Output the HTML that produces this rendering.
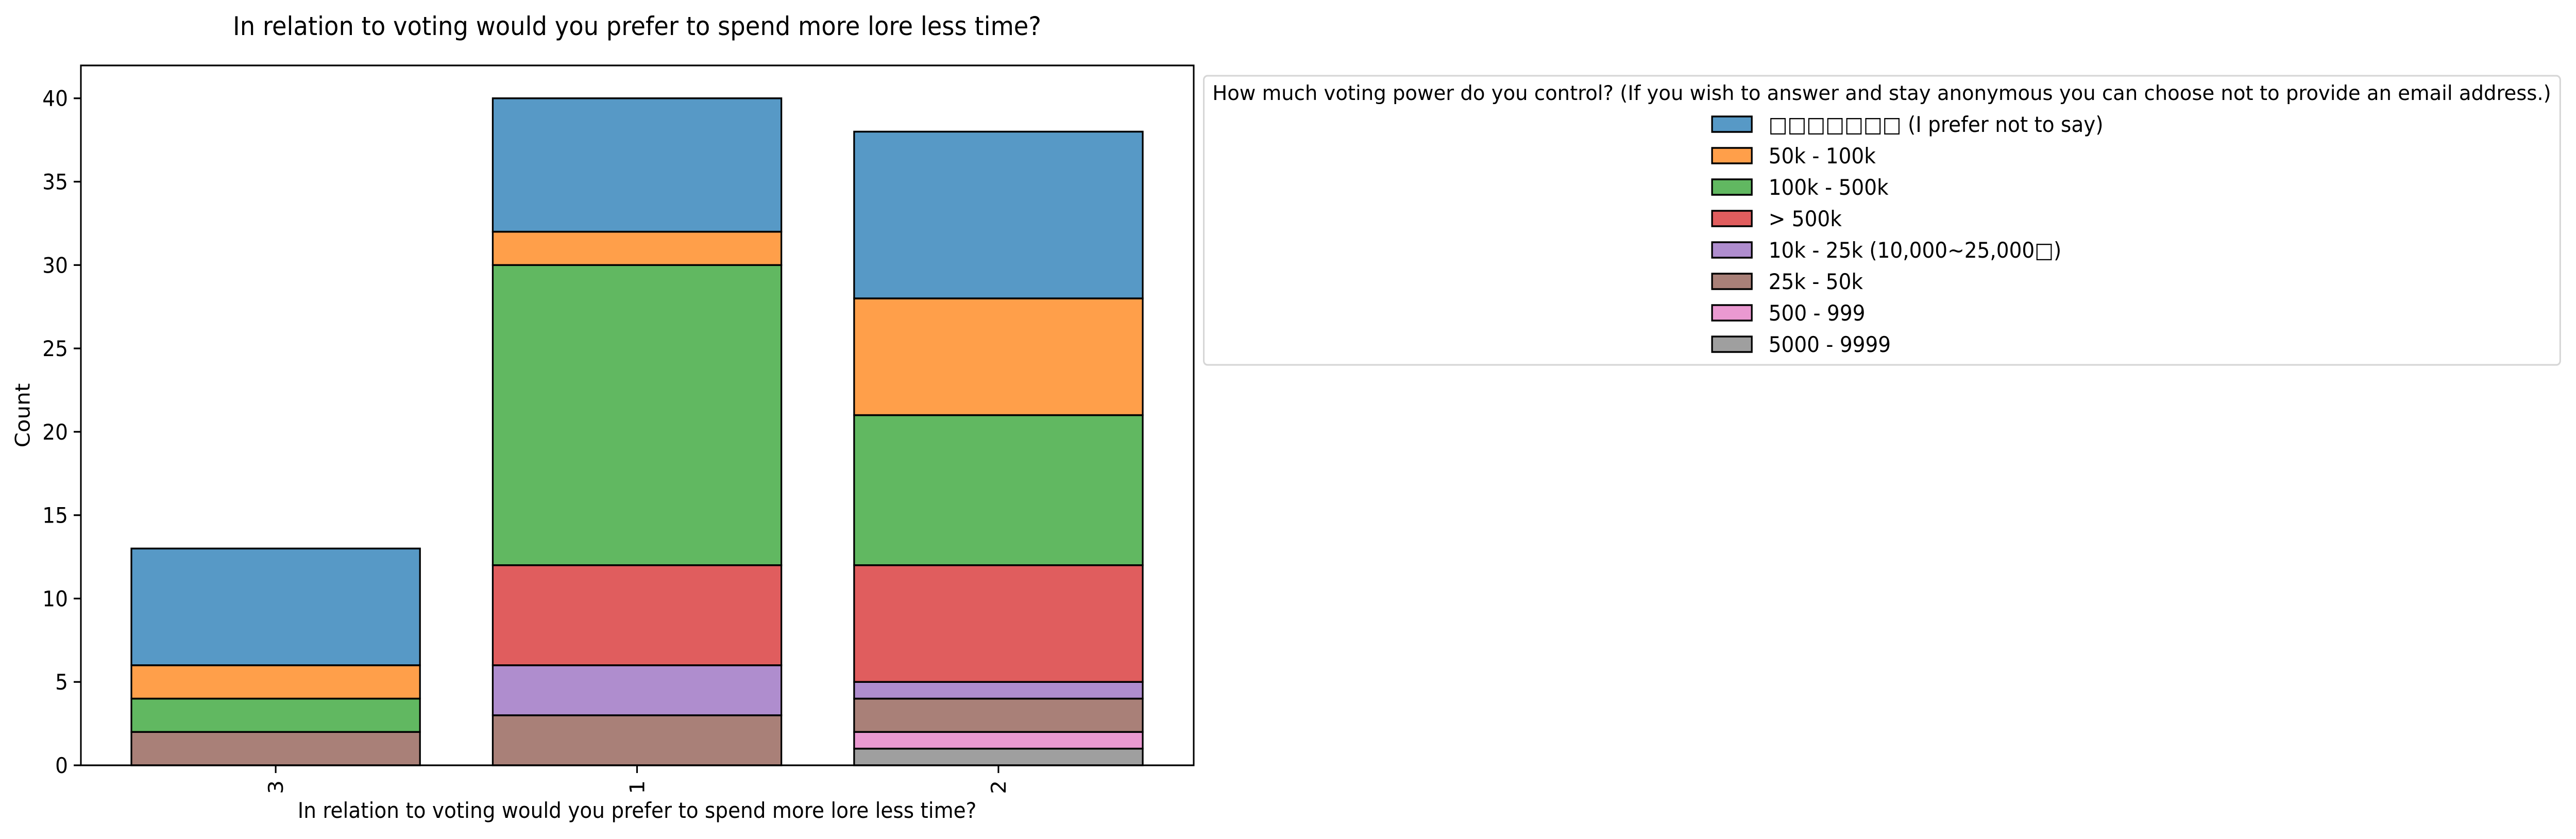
<!DOCTYPE html>
<html><head><meta charset="utf-8"><style>
html,body{margin:0;padding:0;background:#fff;width:100%;height:100%;overflow:hidden;}
svg{display:block;position:absolute;left:0;top:0;width:100vw;height:100vh;font-family:"DejaVu Sans","Liberation Sans","Noto Sans CJK SC",sans-serif;}
</style></head><body>
<svg id="chart" viewBox="0 0 5382 1628" preserveAspectRatio="none" xmlns="http://www.w3.org/2000/svg">
<rect width="5382" height="1628" fill="#fff"/>
<text x="1331" y="68" font-size="50" text-anchor="middle">In relation to voting would you prefer to spend more lore less time?</text>
<g id="bars"></g>
<g id="axes"></g>
<text x="62" y="806" font-size="42" text-anchor="middle" transform="rotate(-90 62 806)">Count</text>
<text x="1331" y="1587" font-size="42" text-anchor="middle">In relation to voting would you prefer to spend more lore less time?</text>
<g id="legend"></g>
</svg>
<script>
const categories = ["3", "1", "2"];
const seriesNames = ["□□□□□□□ (I prefer not to say)", "50k - 100k", "100k - 500k", "> 500k", "10k - 25k (10,000~25,000□)", "25k - 50k", "500 - 999", "5000 - 9999"];
const colors = ["#5799c6", "#ff9f4a", "#61b861", "#e05d5e", "#af8dce", "#a98078", "#ea99d1", "#9f9f9f"];
const sBlue = [7, 8, 10];
const sOrange = [2, 2, 7];
const sGreen = [2, 18, 9];
const sRed = [0, 6, 7];
const sPurple = [0, 3, 1];
const sBrown = [2, 3, 2];
const sPink = [0, 0, 1];
const sGray = [0, 0, 1];
const yTicks = [0, 5, 10, 15, 20, 25, 30, 35, 40];

const NS = "http://www.w3.org/2000/svg";
const L = 169, R = 2494, T = 127, B = 1485;
const yMax = 41.97;
const yS = v => B - v / yMax * (B - T);
const step = 755, firstC = 576;
const xC = i => firstC + i * step;
const bw = 603;
function mk(tag, attrs, parent) { const e = document.createElementNS(NS, tag); for (const k in attrs) e.setAttribute(k, attrs[k]); parent.appendChild(e); return e; }

const series = [sBlue, sOrange, sGreen, sRed, sPurple, sBrown, sPink, sGray];
const gb = document.getElementById('bars');
categories.forEach((c, i) => {
  let base = 0;
  for (let s = series.length - 1; s >= 0; s--) {
    const v = series[s][i];
    if (v <= 0) continue;
    const r = mk('rect', { x: xC(i) - bw / 2, y: yS(base + v), width: bw, height: yS(base) - yS(base + v), fill: colors[s], stroke: '#000', 'stroke-width': 3.5 }, gb);
    
    
    base += v;
  }
});

const ga = document.getElementById('axes');
yTicks.forEach(t => {
  const y = yS(t);
  const l = mk('line', { x1: L - 15, x2: L, y1: y, y2: y, stroke: '#000', 'stroke-width': 3.3 }, ga);
  
  
  const tx = mk('text', { x: L - 27, y: y + 15, 'font-size': 42, 'text-anchor': 'end' }, ga);
  tx.textContent = t;
  
  
});
categories.forEach((c, i) => {
  const x = xC(i);
  const l = mk('line', { x1: x, x2: x, y1: B, y2: B + 15, stroke: '#000', 'stroke-width': 3.3 }, ga);
  
  
  const tx = mk('text', { x: x + 15, y: B + 29, 'font-size': 42, 'text-anchor': 'end', transform: 'rotate(-90 ' + (x + 15) + ' ' + (B + 29) + ')' }, ga);
  tx.textContent = c;
  
  
});
const fr = mk('rect', { x: L, y: T, width: R - L, height: B - T, fill: 'none', stroke: '#000', 'stroke-width': 3.3 }, ga);



const gl = document.getElementById('legend');
const lb = mk('rect', { x: 2515, y: 147, width: 2834, height: 561, rx: 8, fill: '#fff', stroke: '#d6d6d6', 'stroke-width': 3.3 }, gl);


const lt = mk('text', { x: 2533, y: 194, 'font-size': 39, textLength: 2797, lengthAdjust: 'spacingAndGlyphs' }, gl);
lt.textContent = 'How much voting power do you control? (If you wish to answer and stay anonymous you can choose not to provide an email address.)';


seriesNames.forEach((n, s) => {
  const cy = 241 + s * 61;
  const p = mk('rect', { x: 3577, y: cy - 15, width: 83, height: 30, fill: colors[s], stroke: '#000', 'stroke-width': 3.5 }, gl);
  
  
  const t = mk('text', { x: 3695, y: cy + 15, 'font-size': 42 }, gl);
  t.textContent = n;
  
  
});
</script>
</body></html>
